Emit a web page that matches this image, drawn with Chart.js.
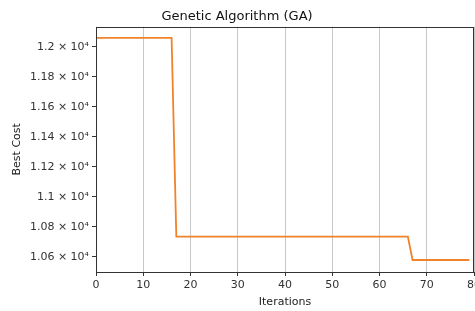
<!DOCTYPE html>
<html>
<head>
<meta charset="utf-8">
<script src="https://cdn.jsdelivr.net/npm/chart.js@4"></script>
<style>
  body { margin: 0; background: #fff; }
  #wrap { width: 475px; height: 311px; }
</style>
</head>
<body>
<div id="wrap"><canvas id="gaChart"></canvas></div>
<script>
// breakpoints of the best-cost curve (step changes)
const iterations = [0, 16, 17, 66, 67, 79];
const bestCost = [12061, 12061, 10734, 10734, 10578, 10578];

const xTicks = [0, 10, 20, 30, 40, 50, 60, 70, 80];
const yTicks = [10600, 10800, 11000, 11200, 11400, 11600, 11800, 12000];

const fontFamily = '"DejaVu Sans", sans-serif';
const tickColor = '#333';

// frame around the plot like matplotlib spines
const framePlugin = {
    id: 'frame',
    afterDraw(chart) {
        const a = chart.chartArea;
        const c = chart.ctx;
        c.save();
        c.strokeStyle = '#333';
        c.lineWidth = 1;
        c.strokeRect(Math.round(a.left) + 0.5, Math.round(a.top) + 0.5,
            Math.round(a.right - a.left) - 1, Math.round(a.bottom - a.top));
        c.restore();
    }
};

const ctx = document.getElementById('gaChart').getContext('2d');

const chart = new Chart(ctx, {
    type: 'line',
    data: {
        datasets: [{
            label: 'GA',
            data: iterations.map((it, i) => ({ x: it, y: bestCost[i] })),
            borderColor: '#f0822a',
            borderWidth: 1.8,
            pointRadius: 0,
            tension: 0,
            fill: false
        }]
    },
    options: {
        responsive: true,
        maintainAspectRatio: false,
        animation: false,
        layout: { padding: { left: 0, right: 1, top: 0, bottom: 0 } },
        plugins: {
            legend: { display: false },
            tooltip: { enabled: false },
            title: {
                display: true,
                text: 'Genetic Algorithm (GA)',
                color: '#111',
                font: { family: fontFamily, size: 13, weight: 'normal' },
                padding: { top: 9, bottom: 2 }
            }
        },
        scales: {
            x: {
                type: 'linear',
                min: 0,
                max: 80,
                afterBuildTicks: s => { s.ticks = xTicks.map(v => ({ value: v })); },
                afterFit: s => { s.height = 39; s.paddingRight = 0; s.paddingLeft = 0; },
                border: { display: false },
                grid: {
                    color: '#c8c8c8',
                    lineWidth: 1,
                    drawTicks: true,
                    tickLength: 4,
                    tickColor: tickColor
                },
                ticks: {
                    color: tickColor,
                    font: { family: fontFamily, size: 11 },
                    padding: 3,
                    maxRotation: 0,
                    autoSkip: false
                },
                title: {
                    display: true,
                    text: 'Iterations',
                    color: '#222',
                    font: { family: fontFamily, size: 11 },
                    padding: { top: 0, bottom: 2 }
                }
            },
            y: {
                type: 'linear',
                min: 10498,
                max: 12136,
                afterBuildTicks: s => { s.ticks = yTicks.map(v => ({ value: v })); },
                afterFit: s => { s.width = 96; s.paddingTop = 0; s.paddingBottom = 0; },
                border: { display: false },
                grid: {
                    drawOnChartArea: false,
                    drawTicks: true,
                    tickLength: 4,
                    tickColor: tickColor
                },
                ticks: {
                    color: tickColor,
                    font: { family: fontFamily, size: 11 },
                    padding: 3,
                    autoSkip: false,
                    callback: v => (v / 10000).toString() + ' \u00d7 10\u2074'
                },
                title: {
                    display: true,
                    text: 'Best Cost',
                    color: '#222',
                    font: { family: fontFamily, size: 11 },
                    padding: { top: 11, bottom: 0 }
                }
            }
        }
    },
    plugins: [framePlugin]
});
</script>
</body>
</html>
